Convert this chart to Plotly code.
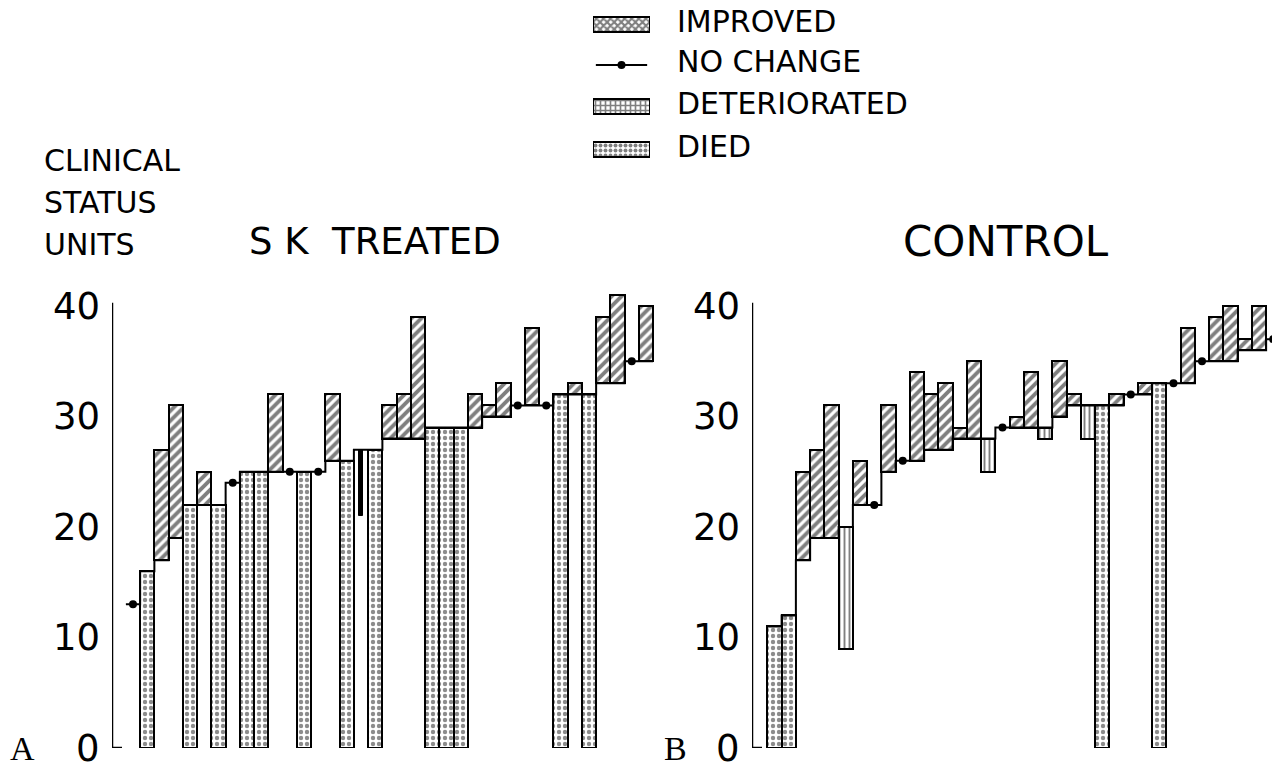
import plotly.graph_objects as go

# figure sized to the 1280x770 window minus the page's 8px body margin on each side
W, H = 1264, 754

# ---- data: one entry per patient, sorted by initial clinical status ----
# outcome codes: I = improved, N = no change, X = deteriorated, D = died
a_outcome = ["N", "D", "I", "I", "D", "I", "D", "N", "D", "D", "I", "N", "D", "N", "I", "D", "X", "D", "I",
             "I", "I", "D", "D", "D", "I", "I", "I", "N", "I", "N", "D", "I", "D", "I", "I", "N", "I"]
a_initial = [13, 16, 17, 19, 22, 22, 22, 24, 25, 25, 25, 25, 25, 25, 26, 26, 27, 27, 28,
             28, 28, 29, 29, 29, 29, 30, 30, 31, 31, 31, 32, 32, 32, 33, 33, 35, 35]
a_final = [13, 0, 27, 31, 0, 25, 0, 24, 0, 0, 32, 25, 0, 25, 32, 0, 21, 0, 31,
           32, 39, 0, 0, 0, 32, 31, 33, 31, 38, 31, 0, 33, 0, 39, 41, 35, 40]

b_outcome = ["D", "D", "I", "I", "I", "X", "I", "N", "I", "N", "I", "I", "I", "I", "I", "X", "N", "I",
             "I", "X", "I", "I", "X", "D", "I", "N", "I", "D", "N", "I", "N", "I", "I", "I", "I", "N"]
b_initial = [11, 12, 17, 19, 19, 20, 22, 22, 25, 26, 26, 27, 27, 28, 28, 28, 29, 29,
             29, 29, 30, 31, 31, 31, 31, 32, 32, 33, 33, 33, 35, 35, 35, 36, 36, 37]
b_final = [0, 0, 25, 27, 31, 9, 26, 22, 31, 26, 34, 32, 33, 29, 35, 25, 29, 30,
           34, 28, 35, 32, 28, 0, 32, 32, 33, 0, 33, 38, 35, 39, 40, 37, 40, 37]

y_ticks = [0, 10, 20, 30, 40]
legend_labels = ["IMPROVED", "NO CHANGE", "DETERIORATED", "DIED"]
panel_titles = ["S\u00a0K\u00a0\u00a0TREATED", "CONTROL"]
y_title_lines = ["CLINICAL", "STATUS", "UNITS"]

FONT = "DejaVu Sans"
BLACK = "#000000"

# offset of the figure inside the photographed window (page body margin)
OX, OY = 8.0, 8.0


def paper_x(t):   # target photo x (px) -> paper fraction
    return min(1.0, max(0.0, (t - OX) / W))


def paper_y(t):   # target photo y (px from top) -> paper fraction
    return min(1.0, max(0.0, 1 - (t - OY) / H))


IMP_PAT = dict(shape="/", size=7, solidity=0.55, fgcolor=BLACK, bgcolor="white")
DIED_PAT = dict(shape=".", size=6, solidity=0.42, fgcolor="#1a1a1a", bgcolor="white")
DET_PAT = dict(shape="|", size=5, solidity=0.38, fgcolor=BLACK, bgcolor="white")

fig = go.Figure()


def add_panel(outcome, initial, final, xa, ya, narrow_det=False):
    n = len(outcome)
    idx = list(range(n))
    sx, sy = [], []
    for i in idx:
        sx += [i - 0.5, i + 0.5]
        sy += [initial[i], initial[i]]
    fig.add_trace(go.Scatter(x=sx, y=sy, mode="lines", line=dict(color=BLACK, width=2),
                             xaxis=xa, yaxis=ya, showlegend=False, hoverinfo="skip"))
    di = [i for i in idx if outcome[i] == "D"]
    fig.add_trace(go.Bar(x=di, y=[initial[i] for i in di], base=[0] * len(di), width=1,
                         marker=dict(color="white", line=dict(color=BLACK, width=2), pattern=DIED_PAT),
                         xaxis=xa, yaxis=ya, showlegend=False))
    ii = [i for i in idx if outcome[i] == "I"]
    fig.add_trace(go.Bar(x=ii, y=[final[i] - initial[i] for i in ii], base=[initial[i] for i in ii], width=1,
                         marker=dict(color="white", line=dict(color=BLACK, width=2), pattern=IMP_PAT),
                         xaxis=xa, yaxis=ya, showlegend=False))
    xi = [i for i in idx if outcome[i] == "X"]
    if narrow_det:
        fig.add_trace(go.Bar(x=xi, y=[initial[i] - final[i] for i in xi], base=[final[i] for i in xi], width=0.22,
                             marker=dict(color=BLACK, line=dict(color=BLACK, width=1)),
                             xaxis=xa, yaxis=ya, showlegend=False))
    else:
        fig.add_trace(go.Bar(x=xi, y=[initial[i] - final[i] for i in xi], base=[final[i] for i in xi], width=1,
                             marker=dict(color="white", line=dict(color=BLACK, width=2), pattern=DET_PAT),
                             xaxis=xa, yaxis=ya, showlegend=False))
    ni = [i for i in idx if outcome[i] == "N"]
    fig.add_trace(go.Scatter(x=ni, y=[initial[i] for i in ni], mode="markers",
                             marker=dict(color=BLACK, size=8), xaxis=xa, yaxis=ya, showlegend=False))


add_panel(a_outcome, a_initial, a_final, "x", "y", narrow_det=True)
add_panel(b_outcome, b_initial, b_final, "x2", "y2")

# ---- custom legend swatches (axis 3, y units = target photo px from top) ----
leg_top, leg_bot = 8, 165
leg_y = [24.5, 65, 106.5, 149.5]
fig.add_trace(go.Bar(x=[1], y=[leg_y[0]], base=[0], orientation="h", width=15,
                     marker=dict(color="white", line=dict(color=BLACK, width=2),
                                 pattern=dict(shape="x", size=5, solidity=0.65, fgcolor=BLACK, bgcolor="white")),
                     xaxis="x3", yaxis="y3", showlegend=False))
fig.add_trace(go.Bar(x=[1], y=[leg_y[2]], base=[0], orientation="h", width=15,
                     marker=dict(color="white", line=dict(color=BLACK, width=2),
                                 pattern=dict(shape="+", size=5, solidity=0.55, fgcolor=BLACK, bgcolor="white")),
                     xaxis="x3", yaxis="y3", showlegend=False))
fig.add_trace(go.Bar(x=[1], y=[leg_y[3]], base=[0], orientation="h", width=15,
                     marker=dict(color="white", line=dict(color=BLACK, width=2),
                                 pattern=dict(shape=".", size=5, solidity=0.5, fgcolor=BLACK, bgcolor="white")),
                     xaxis="x3", yaxis="y3", showlegend=False))
fig.add_trace(go.Scatter(x=[0.05, 0.95], y=[leg_y[1], leg_y[1]], mode="lines", line=dict(color=BLACK, width=2),
                         xaxis="x3", yaxis="y3", showlegend=False))
fig.add_trace(go.Scatter(x=[0.5], y=[leg_y[1]], mode="markers", marker=dict(color=BLACK, size=8),
                         xaxis="x3", yaxis="y3", showlegend=False))

# ---- axes ----
slot = 14.25
y_bot, y_top = 748, 291          # target photo px of y=0 and of the top of the plot area
unit_px = 11.05                  # target photo px per clinical status unit
y_range = [0, (y_bot - y_top) / unit_px]
ydom = [paper_y(y_bot), paper_y(y_top)]

ax_a, ax_a_end, a_off = 112, 668, 21
ax_b, a_b_end, b_off = 752, OX + W, 22.5
xr_a = [-a_off / slot, -a_off / slot + (ax_a_end - ax_a) / slot]
xr_b = [-b_off / slot, -b_off / slot + (a_b_end - ax_b) / slot]

common_y = dict(range=y_range, domain=ydom, showticklabels=False,
                showgrid=False, zeroline=False, showline=False, ticks="",
                minor=dict(dtick=5, ticks="inside", ticklen=4, tickwidth=1.5, tickcolor="#555555"))
common_x = dict(showgrid=False, zeroline=False, showline=False, showticklabels=False, ticks="")

fig.update_layout(
    width=W, height=H, margin=dict(l=0, r=0, t=0, b=0),
    paper_bgcolor="white", plot_bgcolor="rgba(0,0,0,0)",
    barmode="overlay", bargap=0,
    xaxis=dict(domain=[paper_x(ax_a), paper_x(ax_a_end)], range=xr_a, **common_x),
    yaxis=dict(anchor="x", **common_y),
    xaxis2=dict(domain=[paper_x(ax_b), paper_x(a_b_end)], range=xr_b, **common_x),
    yaxis2=dict(anchor="x2", **common_y),
    xaxis3=dict(domain=[paper_x(593), paper_x(650)], range=[0, 1], **common_x),
    yaxis3=dict(anchor="x3", domain=[paper_y(leg_bot), paper_y(leg_top)], range=[leg_bot, leg_top],
                showgrid=False, zeroline=False, showline=False, showticklabels=False, ticks=""),
    showlegend=False,
)

shapes = []
for xr, xref, yref in [(xr_a, "x", "y"), (xr_b, "x2", "y2")]:
    shapes.append(dict(type="line", xref=xref, yref=yref, x0=xr[0], x1=xr[0], y0=0, y1=40.3,
                       line=dict(color=BLACK, width=2.5)))
    shapes.append(dict(type="line", xref=xref, yref=yref, x0=xr[0], x1=xr[0] + 0.7, y0=0, y1=0,
                       line=dict(color=BLACK, width=2.5)))
fig.update_layout(shapes=shapes)

ann = []


def txt(text, x, y, size, xanchor="left", family=FONT):
    ann.append(dict(text=text, x=paper_x(x), y=paper_y(y), xref="paper", yref="paper", showarrow=False,
                    xanchor=xanchor, yanchor="middle", font=dict(family=family, size=size, color=BLACK)))


# y tick labels placed on the y scale of each panel, right-aligned left of the axis
for yref, label_right in [("y", 101), ("y2", 741)]:
    for v in y_ticks:
        ann.append(dict(text=str(v), x=paper_x(label_right), y=v, xref="paper", yref=yref, showarrow=False,
                        xanchor="right", yanchor="middle", borderpad=0,
                        font=dict(family=FONT, size=37, color=BLACK)))

for line, yy in zip(y_title_lines, [161, 202, 244]):
    txt(line, 42, yy, 30)
txt(panel_titles[0], 375, 241, 37, xanchor="center")
txt(panel_titles[1], 1006, 242, 42, xanchor="center")
txt("A", 6, 748, 34, family="Liberation Serif")
txt("B", 662, 748, 34, family="Liberation Serif")
for lab, yy in zip(legend_labels, [21, 62, 104, 146]):
    txt(lab, 675, yy, 30)
fig.update_layout(annotations=ann)

fig.write_html("out.html")
